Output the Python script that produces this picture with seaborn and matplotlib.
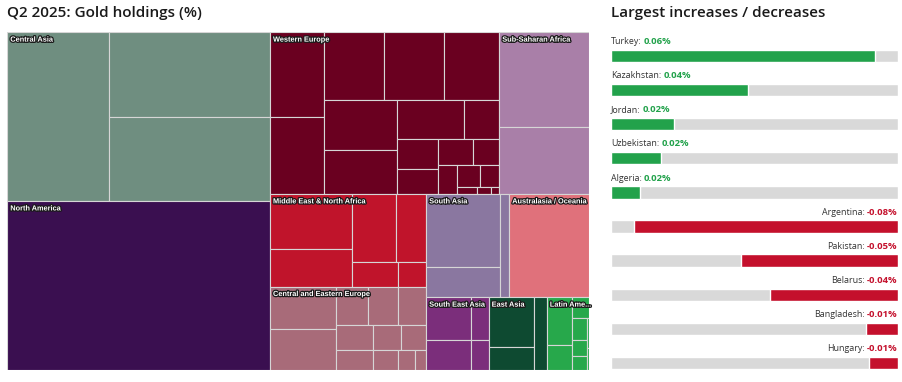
import numpy as np
import matplotlib
matplotlib.use("Agg")
import matplotlib.pyplot as plt
import matplotlib.patheffects as pe
from matplotlib.patches import Rectangle
import seaborn as sns

sns.set_theme(style="white")
plt.rcParams['font.family'] = ['Open Sans', 'DejaVu Sans']


# 1. DATA

regions = ["Central Asia", "North America", "Western Europe", "Sub-Saharan Africa",
           "Middle East & North Africa", "Central and Eastern Europe", "South Asia",
           "Australasia / Oceania", "South East Asia", "East Asia", "Latin America"]

region_colors = ["#6f8e80", "#3a0f50", "#6a0020", "#a97fa8", "#c0142b", "#a86b79",
                 "#8a77a0", "#e0717b", "#7b2e7b", "#0e4a31", "#27a84b"]

# country shares (%) inside each region
central_asia = [8.74, 6.97, 6.86]
north_america = [22.57]
western_europe = [2.34, 2.12, 2.06, 2.04, 1.89, 1.88, 1.64, 1.36, 0.71, 0.62,
                  0.52, 0.45, 0.34, 0.28, 0.25, 0.22, 0.07, 0.05, 0.03]
sub_saharan = [4.36, 3.05]
mena = [2.32, 1.56, 1.52, 1.03, 0.57, 0.36]
cee = [1.43, 1.36, 0.61, 0.59, 0.54, 0.47, 0.38, 0.37, 0.33, 0.26, 0.17, 0.11]
south_asia = [2.74, 1.16, 0.46]
oceania = [4.21]
south_east_asia = [0.98, 0.69, 0.38, 0.26]
east_asia = [1.15, 0.52, 0.48]
latin_america = [0.62, 0.32, 0.18, 0.16, 0.12, 0.10, 0.04, 0.03]

children = [central_asia, north_america, western_europe, sub_saharan, mena, cee,
            south_asia, oceania, south_east_asia, east_asia, latin_america]

inc_countries = ["Turkey", "Kazakhstan", "Jordan", "Uzbekistan", "Algeria"]
inc_values = [0.06, 0.04, 0.02, 0.02, 0.02]
inc_bar = [0.922, 0.478, 0.219, 0.173, 0.100]

dec_countries = ["Argentina", "Pakistan", "Belarus", "Bangladesh", "Hungary"]
dec_values = [-0.08, -0.05, -0.04, -0.01, -0.01]
dec_bar = [0.920, 0.547, 0.445, 0.112, 0.099]

green = "#22a24b"
red = "#c4102c"
track = "#d9d9d9"


# 2. SQUARIFIED LAYOUT (column / row alternating)

def squarify(values, x0, y0, w, h):
    order = sorted(range(len(values)), key=lambda k: -values[k])
    vsum = sum(values)
    areas = [w * h * values[k] / vsum for k in order]
    g = {'dir': 0, 'w': w, 'h': h, 'els': [], 'tot': 0.0,
         'nW': 0.0, 'lW': 0.0, 'nH': 0.0, 'lH': 0.0}
    pos = [x0, y0]
    rects = []

    def aspect(a, b):
        return max(a / b, b / a)

    def add(a):
        prev = g['els'][-1] if g['els'] else None
        g['tot'] += a
        worse = False
        if g['dir'] == 0:
            g['lW'] = g['nW']
            g['nW'] = g['tot'] / g['h']
            if prev is not None:
                worse = aspect(g['nW'], prev / g['nW']) > aspect(g['lW'], prev / g['lW'])
        else:
            g['lH'] = g['nH']
            g['nH'] = g['tot'] / g['w']
            if prev is not None:
                worse = aspect(prev / g['nH'], g['nH']) > aspect(prev / g['lH'], g['lH'])
        g['els'].append(a)
        return worse

    def flush(last):
        if last:
            gw, gh, els, carry = g['nW'], g['nH'], g['els'], None
        else:
            gw, gh, els, carry = g['lW'], g['lH'], g['els'][:-1], g['els'][-1]
        for a in els:
            if g['dir'] == 0:
                rects.append((pos[0], pos[1], gw, a / gw))
                pos[1] += a / gw
            else:
                rects.append((pos[0], pos[1], a / gh, gh))
                pos[0] += a / gh
        g['els'], g['tot'], g['nW'], g['lW'] = [], 0.0, 0.0, 0.0
        if g['dir'] == 0:
            g['w'] -= gw
        else:
            g['h'] -= gh
        pos[0] = x0 + (w - g['w'])
        pos[1] = y0 + (h - g['h'])
        g['dir'] = 1 - g['dir']
        if carry is not None:
            add(carry)

    for i, a in enumerate(areas):
        if add(a):
            flush(False)
        if i == len(areas) - 1:
            flush(True)

    out = [None] * len(values)
    for k, r in zip(order, rects):
        out[k] = r
    return out


# 3. FIGURE

fig = plt.figure(figsize=(9.03, 3.82), dpi=100)
FW, FH = 903, 382

fig.text(7 / FW, 1 - 13 / FH, "Q2 2025: Gold holdings (%)", fontsize=11,
         fontweight="semibold", color="#1a1a1a", va="center", ha="left")
fig.text(611 / FW, 1 - 13 / FH, "Largest increases / decreases", fontsize=11,
         fontweight="semibold", color="#1a1a1a", va="center", ha="left")

# treemap
W, H = 582, 337.7
ax = fig.add_axes([7.3 / FW, (FH - 370) / FH, W / FW, H / FH])
ax.set_xlim(0, W)
ax.set_ylim(H, 0)
ax.axis("off")

region_rects = squarify([sum(c) for c in children], 0, 0, W, H)
for name, color, vals, (rx, ry, rw, rh) in zip(regions, region_colors, children, region_rects):
    for (cx, cy, cw, ch) in squarify(vals, rx, ry, rw, rh):
        ax.add_patch(Rectangle((cx, cy), cw, ch, facecolor=color,
                               edgecolor="#d6d6d6", linewidth=0.8))
    max_chars = int(rw / 3.5)
    label = name if len(name) <= max_chars else name[:max_chars - 3] + "..."
    ax.text(rx + 3, ry + 4.3, label, fontsize=5.3, fontweight="bold", color="white",
            family=["Liberation Sans", "DejaVu Sans"], ha="left", va="top",
            path_effects=[pe.withStroke(linewidth=1.8, foreground="#1a1a1a")])

# increases / decreases
first_row, pitch = 56, 34.1
top_pix, bot_pix = 30, 375
ax2 = fig.add_axes([611 / FW, (FH - bot_pix) / FH, 286.7 / FW, (bot_pix - top_pix) / FH])
n_rows = len(inc_countries) + len(dec_countries)
rows = np.arange(n_rows)
bar_h = 12.4 / pitch

sns.barplot(x=np.ones(n_rows), y=rows, orient="h", native_scale=True, color=track,
            saturation=1, width=bar_h, errorbar=None, ax=ax2)
inc_rows = rows[:len(inc_countries)]
dec_rows = rows[len(inc_countries):]
sns.barplot(x=inc_bar, y=inc_rows, orient="h", native_scale=True, color=green,
            saturation=1, width=bar_h, errorbar=None, ax=ax2)
ax2.barh(dec_rows, dec_bar, left=1 - np.array(dec_bar), height=bar_h, color=red)

ax2.set_xlim(0, 1)
ax2.set_ylim((bot_pix - first_row) / pitch, (top_pix - first_row) / pitch)
ax2.axis("off")

label_off = 14.3 / pitch
fs = 6.4
fs_val = 6.8
for r, name, v in zip(inc_rows, inc_countries, inc_values):
    t = ax2.text(0, r - label_off, f"{name}:", ha="left", va="center",
                 fontsize=fs, color="#333333")
    ax2.annotate(f"{v:.2f}%", xy=(1, 0.5), xycoords=t, xytext=(1.5, 0),
                 textcoords="offset points", ha="left", va="center",
                 fontsize=fs_val, color=green, fontweight="bold")
for r, name, v in zip(dec_rows, dec_countries, dec_values):
    t = ax2.text(1, r - label_off, f"{v:.2f}%", ha="right", va="center",
                 fontsize=fs_val, color=red, fontweight="bold")
    ax2.annotate(f"{name}:", xy=(0, 0.5), xycoords=t, xytext=(-1.5, 0),
                 textcoords="offset points", ha="right", va="center",
                 fontsize=fs, color="#333333")

fig.savefig("out.png", dpi=100)
